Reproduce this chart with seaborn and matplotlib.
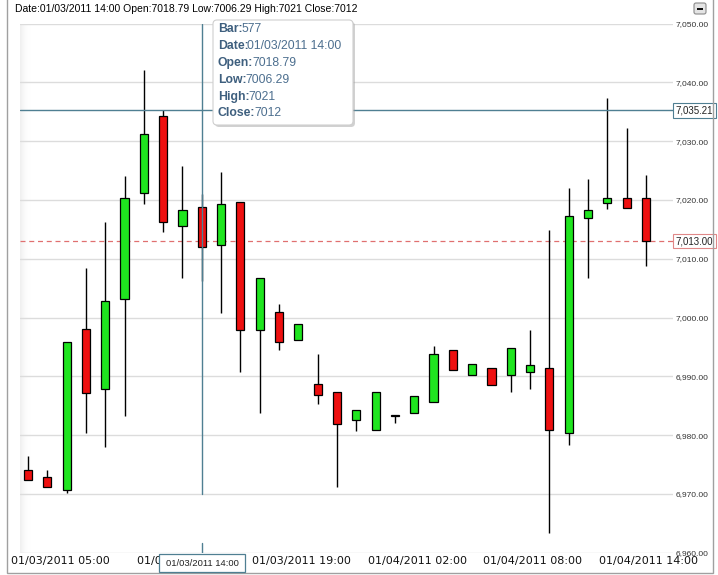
import numpy as np
import matplotlib
matplotlib.use('Agg')
import matplotlib.pyplot as plt
from matplotlib.colors import LinearSegmentedColormap
from matplotlib.patches import FancyBboxPatch, Rectangle
import seaborn as sns

# hourly bars
opens = [6974.1, 6972.8, 6970.6, 6998.0, 6987.8, 7003.1, 7021.1, 7034.3, 7015.6, 7018.79,
         7012.4, 7019.7, 6997.9, 7000.9, 6996.1, 6988.7, 6987.3, 6982.5, 6980.8, 6983.5,
         6983.7, 6985.6, 6994.5, 6990.3, 6991.4, 6990.3, 6990.8, 6991.4, 6980.3, 7017.0,
         7019.4, 7020.4, 7020.3]
highs = [6976.4, 6974.1, 6995.9, 7008.4, 7016.3, 7024.1, 7042.1, 7035.3, 7025.8, 7021.0,
         7024.8, 7019.7, 7006.8, 7002.3, 6998.9, 6993.8, 6987.3, 6984.3, 6987.3, 6983.5,
         6986.65, 6995.2, 6994.5, 6992.1, 6991.4, 6994.8, 6997.9, 7014.9, 7022.1, 7023.5,
         7037.3, 7032.3, 7024.2]
lows = [6972.3, 6971.1, 6970.1, 6980.3, 6978.0, 6983.2, 7019.3, 7014.5, 7006.8, 7006.29,
        7000.8, 6990.8, 6983.8, 6994.5, 6996.1, 6985.3, 6971.1, 6980.75, 6980.8, 6982.0,
        6983.7, 6985.6, 6991.0, 6990.3, 6988.5, 6987.3, 6987.8, 6963.3, 6978.3, 7006.8,
        7018.4, 7018.6, 7008.8]
closes = [6972.3, 6971.1, 6995.9, 6987.1, 7002.8, 7020.3, 7031.2, 7016.3, 7018.2, 7012.0,
          7019.25, 6997.9, 7006.8, 6995.9, 6998.9, 6986.9, 6981.9, 6984.3, 6987.3, 6983.2,
          6986.65, 6993.8, 6991.0, 6992.1, 6988.5, 6994.8, 6991.9, 6980.9, 7017.2, 7018.2,
          7020.3, 7018.6, 7013.0]

tick_pos = [1.7, 8.2, 14.15, 20.15, 26.15, 32.15]
tick_labels = ['01/03/2011 05:00', '01/03/2011 12:00', '01/03/2011 19:00',
               '01/04/2011 02:00', '01/04/2011 08:00', '01/04/2011 14:00']
price_ticks = list(range(6960, 7051, 10))

cross_bar = 9
cross_price = 7035.21
cross_label = '01/03/2011 14:00'
tip_labels = ['Bar:', 'Date:', 'Open:', 'Low:', 'High:', 'Close:']
tip_values = ['577', '01/03/2011 14:00', '7018.79', '7006.29', '7021', '7012']
header = 'Date:01/03/2011 14:00 Open:7018.79 Low:7006.29 High:7021 Close:7012'

GREEN = '#1fe51f'
RED = '#ee1010'
STEEL = '#4f7f92'

sns.set_style('white')
plt.rcParams['font.family'] = ['Liberation Sans', 'DejaVu Sans']

fig = plt.figure(figsize=(7.18, 5.75), dpi=100)
ax = fig.add_axes([20 / 718, 1 - 552.7 / 575, 653 / 718, 529.2 / 575])

x = np.arange(len(opens))
o = np.array(opens)
c = np.array(closes)
colors = np.where(c >= o, GREEN, RED)

ax.vlines(x, lows, highs, color='black', lw=1, zorder=3)
ax.bar(x, np.maximum(np.abs(c - o), 0.3), bottom=np.minimum(o, c), width=0.42,
       color=colors, edgecolor='black', linewidth=0.9, zorder=4)

# soft shading on the left edge of the plot
shade = LinearSegmentedColormap.from_list('shade', ['white', '#efefef'])
ax.imshow(np.linspace(1, 0, 40).reshape(1, -1) ** 2, extent=[0, 0.016, 0, 1],
          transform=ax.transAxes, cmap=shade, aspect='auto', zorder=0)

# crosshair + last price
ax.plot([cross_bar, cross_bar], [6970, 7050], color=STEEL, lw=1, zorder=5)
ax.plot([cross_bar, cross_bar], [6960, 6961.6], color=STEEL, lw=1, zorder=5)
ax.axhline(cross_price, color=STEEL, lw=1, zorder=5)
ax.axhline(closes[-1], color='#e07070', lw=0.9, ls=(0, (4, 3)), zorder=2)

ax.set_xlim(-0.414, 33.4)
ax.set_ylim(6960, 7050)
ax.set_yticks(price_ticks)
ax.set_yticklabels([f'{v:,.2f}' for v in price_ticks])
ax.yaxis.tick_right()
ax.tick_params(axis='y', length=0, pad=2, labelsize=6, labelcolor='#333333')
ax.set_xticks(tick_pos)
ax.set_xticklabels(tick_labels, family='DejaVu Sans')
ax.tick_params(axis='x', length=0, pad=2.5, labelsize=8, labelcolor='#111111')
ax.grid(axis='y', color='#dcdcdc', lw=1)
ax.grid(axis='x', visible=False)
ax.set_axisbelow(True)
for s in ax.spines.values():
    s.set_visible(False)

blend = ax.get_yaxis_transform()
ax.text(1.004, cross_price, f'{cross_price:,.2f}', transform=blend, fontsize=7, va='center',
        color='#222222', clip_on=False, zorder=6,
        bbox=dict(boxstyle='square,pad=0.25', fc='white', ec=STEEL, lw=0.8))
ax.text(1.004, closes[-1], f'{closes[-1]:,.2f}', transform=blend, fontsize=7, va='center',
        color='#222222', clip_on=False, zorder=6,
        bbox=dict(boxstyle='square,pad=0.25', fc='white', ec='#e08888', lw=0.8))

# overlay in pixel coordinates (top-left origin)
ov = fig.add_axes([0, 0, 1, 1], zorder=10)
ov.set_xlim(0, 718)
ov.set_ylim(575, 0)
ov.axis('off')

ov.add_patch(Rectangle((7, -10), 706, 583, fill=False, ec='#a0a0a0', lw=1))
ov.text(15, 8.5, header, fontsize=7.5, va='center', color='black')

ov.add_patch(FancyBboxPatch((694, 3), 12, 11, boxstyle='round,pad=0,rounding_size=2',
                            fc='#e4e4e4', ec='#8a8a8a', lw=0.8))
ov.add_patch(Rectangle((697, 8.3), 6, 2, fc='#111111', ec='none'))

# tooltip
ov.add_patch(FancyBboxPatch((215, 22), 140, 105, boxstyle='round,pad=0,rounding_size=4',
                            fc='#999999', ec='none', alpha=0.45))
ov.add_patch(FancyBboxPatch((213, 20), 140, 105, boxstyle='round,pad=0,rounding_size=4',
                            fc='white', ec='#cfcfcf', lw=0.8))
for i, (lab, val) in enumerate(zip(tip_labels, tip_values)):
    t = ov.text(218, 29.5 + i * 16.8, lab, fontsize=8.8, weight='bold', color='#3e5f7e',
                va='center')
    ov.annotate(val, xy=(1, 0), xycoords=t, xytext=(-1, 0), textcoords='offset points',
                va='bottom', ha='left', fontsize=8.8, color='#4d6f8f')

ov.add_patch(Rectangle((159, 554), 86, 18, fc='white', ec=STEEL, lw=0.9))
ov.text(202, 563, cross_label, fontsize=6.8, ha='center', va='center', color='#222222')

fig.savefig('out.png', dpi=100)
